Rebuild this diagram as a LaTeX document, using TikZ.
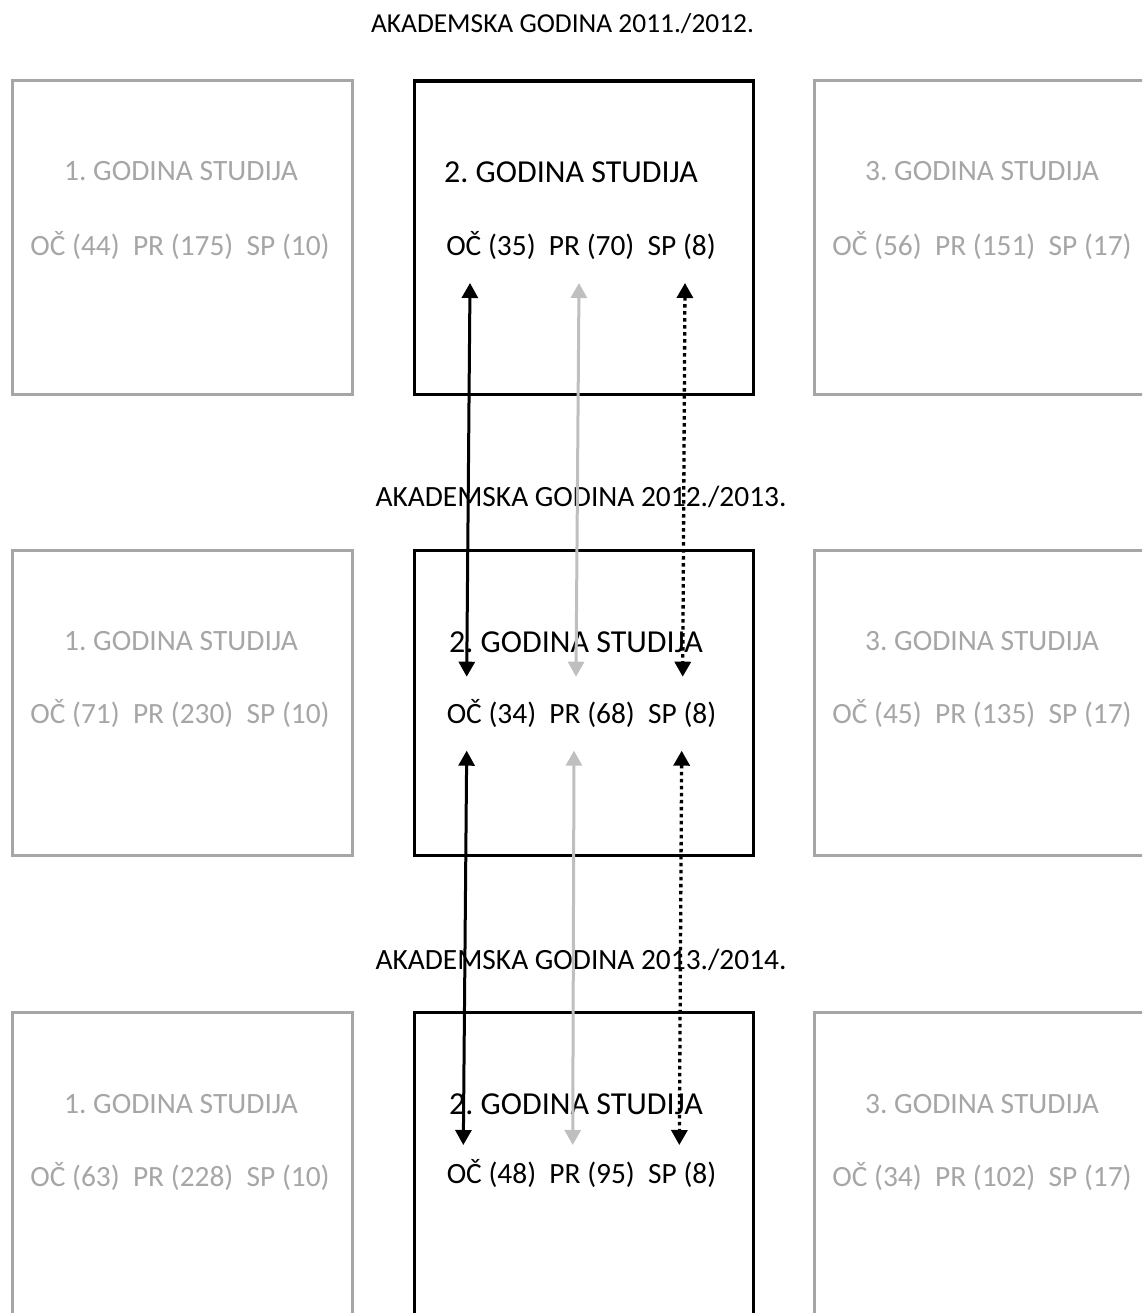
\documentclass[tikz,border=0pt]{standalone}
\usepackage{fontspec}
\setmainfont{Carlito}
\usetikzlibrary{arrows.meta}
\definecolor{gtext}{RGB}{166,166,166}
\definecolor{garrow}{RGB}{191,191,191}
\frenchspacing
\begin{document}
\begin{tikzpicture}[x=1pt,y=-1pt,
  box/.style={line width=3pt, inner sep=0pt, anchor=north west, minimum width=339.5pt},
  graybox/.style={box, draw=gtext},
  blackbox/.style={box, draw=black, line width=3.2pt},
  yeartitle/.style={anchor=base, inner sep=0pt, font=\fontsize{27.4}{33}\selectfont},
  yeartitleb/.style={anchor=base, inner sep=0pt, font=\fontsize{29.4}{35}\selectfont},
  lineone/.style={anchor=base, inner sep=0pt, font=\fontsize{29.5}{35}\selectfont},
  lineoneb/.style={anchor=base, inner sep=0pt, font=\fontsize{32}{38}\selectfont},
  linetwo/.style={anchor=base, inner sep=0pt, font=\fontsize{29.4}{35}\selectfont},
  gtxt/.style={text=gtext},
  solidarr/.style={{Triangle[length=15pt,width=16pt]}-{Triangle[length=15pt,width=16pt]}, line width=3pt, draw=black},
  grayarr/.style={{Triangle[length=15pt,width=16pt]}-{Triangle[length=15pt,width=16pt]}, line width=3pt, draw=garrow, fill=garrow},
  dotarr/.style={{Triangle[length=15pt,width=16pt]}-{Triangle[length=15pt,width=16pt]}, line width=3.3pt, draw=black, dash pattern=on 3.5pt off 3.5pt}
]
\useasboundingbox (0,0) rectangle (1142,1313);
\clip (0,0) rectangle (1142,1313);

% ---------- row 1 ----------
\node[yeartitle] (t1) at (562.5,32.8) {AKADEMSKA GODINA 2011./2012.};
\node[graybox, minimum height=313pt] (l1) at (11,79.5) {};
\node[blackbox, minimum width=339pt, minimum height=313pt] (m1) at (412.5,79.5) {};
\node[graybox, minimum height=313pt] (r1) at (812.5,79.5) {};
\node[lineone, gtxt] (l1a) at (181,180.5) {1. GODINA STUDIJA};
\node[linetwo, gtxt] (l1b) at (180,255.5) {OČ (44)~~PR (175)~~SP (10)};
\node[lineoneb] (m1a) at (571,183) {2. GODINA STUDIJA};
\node[linetwo] (m1b) at (581,255.5) {OČ (35)~~PR (70)~~SP (8)};
\node[lineone, gtxt] (r1a) at (982,180.5) {3. GODINA STUDIJA};
\node[linetwo, gtxt] (r1b) at (982,255.5) {OČ (56)~~PR (151)~~SP (17)};

% ---------- row 2 ----------
\node[yeartitleb] (t2) at (581,506.2) {AKADEMSKA GODINA 2012./2013.};
\node[graybox, minimum height=305.5pt] (l2) at (11,548.5) {};
\node[blackbox, minimum width=339pt, minimum height=305.5pt] (m2) at (412.5,548.5) {};
\node[graybox, minimum height=305.5pt] (r2) at (812.5,548.5) {};
\node[lineone, gtxt] (l2a) at (181,650.5) {1. GODINA STUDIJA};
\node[linetwo, gtxt] (l2b) at (180,723.5) {OČ (71)~~PR (230)~~SP (10)};
\node[lineoneb] (m2a) at (576,652) {2. GODINA STUDIJA};
\node[linetwo] (m2b) at (581.5,723.5) {OČ (34)~~PR (68)~~SP (8)};
\node[lineone, gtxt] (r2a) at (982,650.5) {3. GODINA STUDIJA};
\node[linetwo, gtxt] (r2b) at (982,723.5) {OČ (45)~~PR (135)~~SP (17)};

% ---------- row 3 ----------
\node[yeartitleb] (t3) at (581,969.5) {AKADEMSKA GODINA 2013./2014.};
\node[graybox, minimum height=330pt] (l3) at (11,1010.5) {};
\node[blackbox, minimum width=339pt, minimum height=330pt] (m3) at (412.5,1010.5) {};
\node[graybox, minimum height=330pt] (r3) at (812.5,1010.5) {};
\node[lineone, gtxt] (l3a) at (181,1113.5) {1. GODINA STUDIJA};
\node[linetwo, gtxt] (l3b) at (180,1186) {OČ (63)~~PR (228)~~SP (10)};
\node[lineoneb] (m3a) at (576,1114) {2. GODINA STUDIJA};
\node[linetwo] (m3b) at (581.5,1183) {OČ (48)~~PR (95)~~SP (8)};
\node[lineone, gtxt] (r3a) at (982,1113.5) {3. GODINA STUDIJA};
\node[linetwo, gtxt] (r3b) at (982,1186) {OČ (34)~~PR (102)~~SP (17)};

% ---------- arrow end points ----------
\coordinate (oc1u) at (470,283);   \coordinate (oc2d) at (466.7,676.7);
\coordinate (oc2u) at (466.7,750.7); \coordinate (oc3d) at (463.3,1145);
\coordinate (pr1u) at (579,283);   \coordinate (pr2d) at (576,676.7);
\coordinate (pr2u) at (574,750.7); \coordinate (pr3d) at (572.7,1145);
\coordinate (sp1u) at (685,283);   \coordinate (sp2d) at (682.7,676.7);
\coordinate (sp2u) at (681.7,750.7); \coordinate (sp3d) at (679.3,1145);

% ---------- arrows ----------
\draw[solidarr] (oc1u) -- (oc2d);
\draw[solidarr] (oc2u) -- (oc3d);
\draw[grayarr] (pr1u) -- (pr2d);
\draw[grayarr] (pr2u) -- (pr3d);
\draw[dotarr] (sp1u) -- (sp2d);
\draw[dotarr] (sp2u) -- (sp3d);
\end{tikzpicture}
\end{document}
